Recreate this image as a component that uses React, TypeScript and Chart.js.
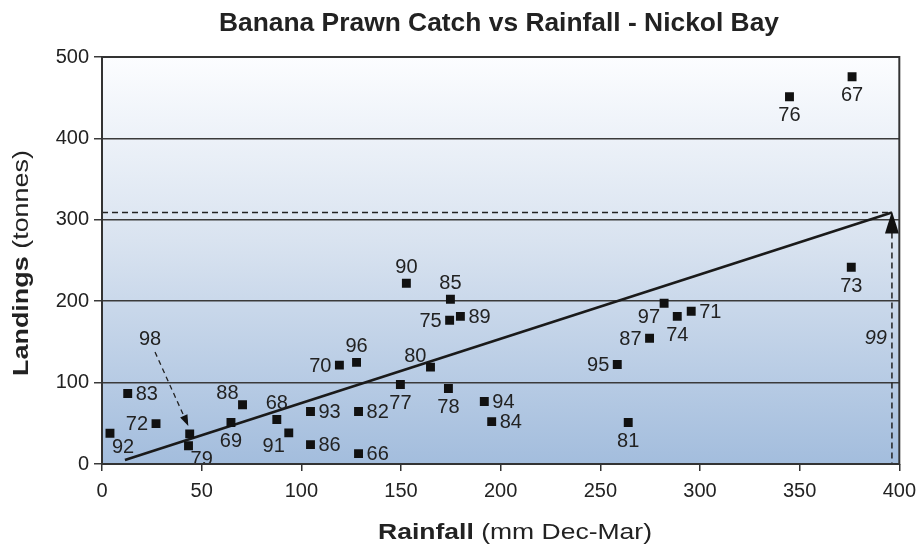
import React, { useEffect, useRef } from "react";
import { Chart, registerables } from "chart.js";

Chart.register(...registerables);

const FONT = '"Liberation Sans", Arial, Helvetica, sans-serif';

// Season labels (year), rainfall (mm Dec-Mar) and landings (tonnes)
const seasons = ["66", "67", "68", "69", "70", "71", "72", "73", "74", "75", "76", "77", "78", "79", "80", "81", "82", "83", "84", "85", "86", "87", "88", "89", "90", "91", "92", "93", "94", "95", "96", "97", "98"];
const rainfall = [128.7, 376.3, 87.7, 64.7, 119.1, 295.6, 27.1, 375.9, 288.6, 174.4, 344.9, 149.7, 173.8, 43.4, 164.8, 264.0, 128.7, 12.9, 195.5, 174.8, 104.6, 274.7, 70.5, 179.8, 152.7, 93.7, 4.0, 104.6, 191.8, 258.5, 127.7, 282.0, 44.0];
const landings = [12.7, 475.7, 54.6, 50.9, 121.5, 187.6, 49.6, 241.7, 181.4, 176.5, 451.1, 97.7, 92.7, 22.5, 119.0, 50.9, 64.4, 86.6, 52.1, 202.3, 23.8, 154.4, 72.7, 181.4, 222.0, 38.2, 37.8, 64.4, 76.7, 122.3, 124.8, 197.4, 37.0];
// Where each season label sits relative to its point (compass direction)
const labelSide = ["e", "s", "n", "s", "w", "e", "w", "s", "s", "w", "s", "s", "s", "se", "nw", "s", "e", "e", "e", "n", "e", "w", "nw", "e", "n", "sw", "se", "e", "e", "w", "n", "sw", "arrow"];

// Regression line end points
const trendRain = [11.5, 396.3];
const trendCatch = [5, 309];

// 1998 pointer (from label to point) and 1999 forecast
const pointer98Rain = [26.6, 43.3];
const pointer98Catch = [137.5, 46.8];
const forecastLabel = "99";
const forecastRain = 396.3;
const forecastCatch = 309;

const xTicks = [0, 50, 100, 150, 200, 250, 300, 350, 400];
const yTicks = [0, 100, 200, 300, 400, 500];

const chartTitle = "Banana Prawn Catch vs Rainfall - Nickol Bay";
const xTitleBold = "Rainfall";
const xTitleRest = " (mm Dec-Mar)";
const yTitleBold = "Landings";
const yTitleRest = " (tonnes)";

const INK = "#222222";

function arrowHead(ctx: CanvasRenderingContext2D, tipX: number, tipY: number, fromX: number, fromY: number, len: number, half: number) {
  const ang = Math.atan2(tipY - fromY, tipX - fromX);
  const bx = tipX - Math.cos(ang) * len;
  const by = tipY - Math.sin(ang) * len;
  const px = -Math.sin(ang) * half;
  const py = Math.cos(ang) * half;
  ctx.beginPath();
  ctx.moveTo(tipX, tipY);
  ctx.lineTo(bx + px, by + py);
  ctx.lineTo(bx - px, by - py);
  ctx.closePath();
  ctx.fill();
}

// draws bold + regular text centred at origin, stretched along its direction to a target width
function drawMixed(ctx: CanvasRenderingContext2D, bold: string, rest: string, size: number, targetWidth: number) {
  const boldF = "bold " + size + "px " + FONT;
  const normF = size + "px " + FONT;
  ctx.font = boldF;
  const wb = ctx.measureText(bold).width;
  ctx.font = normF;
  const wr = ctx.measureText(rest).width;
  const k = targetWidth / (wb + wr);
  ctx.scale(k, 1);
  const start = -(wb + wr) / 2;
  ctx.textAlign = "left";
  ctx.textBaseline = "alphabetic";
  ctx.font = boldF;
  ctx.fillText(bold, start, 0);
  ctx.font = normF;
  ctx.fillText(rest, start + wb, 0);
}

const decorPlugin = {
  id: "decor",
  beforeDraw(chart: any) {
    const { ctx, chartArea: a } = chart;
    ctx.save();
    const g = ctx.createLinearGradient(0, a.top, 0, a.bottom);
    g.addColorStop(0, "#fcfdff");
    g.addColorStop(0.45, "#d9e3f0");
    g.addColorStop(1, "#a3bddd");
    ctx.fillStyle = g;
    ctx.fillRect(a.left, a.top, a.right - a.left, a.bottom - a.top);
    ctx.restore();
  },
  afterDatasetsDraw(chart: any) {
    const { ctx, chartArea: a, scales } = chart;
    const xs = scales.x;
    const ys = scales.y;
    ctx.save();

    // forecast dashed guides
    const fx = xs.getPixelForValue(forecastRain);
    const fy = ys.getPixelForValue(forecastCatch);
    ctx.strokeStyle = INK;
    ctx.lineWidth = 1.5;
    ctx.setLineDash([6, 4]);
    ctx.beginPath();
    ctx.moveTo(a.left, fy);
    ctx.lineTo(fx, fy);
    ctx.moveTo(fx, fy + 20);
    ctx.lineTo(fx, a.bottom);
    ctx.stroke();
    ctx.setLineDash([]);
    ctx.fillStyle = "#111";
    arrowHead(ctx, fx, fy - 1, fx, fy + 30, 22, 7);

    // forecast label
    ctx.font = "italic 20px " + FONT;
    ctx.fillStyle = INK;
    ctx.textAlign = "right";
    ctx.textBaseline = "middle";
    ctx.fillText(forecastLabel, fx - 5, ys.getPixelForValue(154));

    // 98 pointer
    const sx = xs.getPixelForValue(pointer98Rain[0]);
    const sy = ys.getPixelForValue(pointer98Catch[0]);
    const tx = xs.getPixelForValue(pointer98Rain[1]);
    const ty = ys.getPixelForValue(pointer98Catch[1]);
    ctx.strokeStyle = INK;
    ctx.setLineDash([5, 4]);
    ctx.lineWidth = 1.3;
    ctx.beginPath();
    ctx.moveTo(sx, sy);
    const ang = Math.atan2(ty - sy, tx - sx);
    ctx.lineTo(tx - Math.cos(ang) * 9, ty - Math.sin(ang) * 9);
    ctx.stroke();
    ctx.setLineDash([]);
    ctx.fillStyle = "#111";
    arrowHead(ctx, tx, ty, sx, sy, 11, 4);

    // season labels
    ctx.font = "20px " + FONT;
    ctx.fillStyle = INK;
    const meta = chart.getDatasetMeta(0);
    meta.data.forEach((pt: any, i: number) => {
      const side = labelSide[i];
      const x = pt.x;
      const y = pt.y;
      ctx.textBaseline = "middle";
      if (side === "arrow") {
        ctx.textAlign = "center";
        ctx.fillText(seasons[i], sx - 5, sy - 13);
        return;
      }
      let tx2 = x, ty2 = y + 1, align: CanvasTextAlign = "center";
      switch (side) {
        case "e": tx2 = x + 8; align = "left"; break;
        case "w": tx2 = x - 8; align = "right"; break;
        case "n": ty2 = y - 16; break;
        case "s": ty2 = y + 19; break;
        case "se": tx2 = x + 2; ty2 = y + 14; align = "left"; break;
        case "sw": tx2 = x - 4; ty2 = y + 14; align = "right"; break;
        case "nw": tx2 = x - 4; ty2 = y - 11; align = "right"; break;
        case "ne": tx2 = x + 4; ty2 = y - 11; align = "left"; break;
      }
      ctx.textAlign = align;
      ctx.fillText(seasons[i], tx2, ty2);
    });
    ctx.restore();
  },
  afterDraw(chart: any) {
    const { ctx, chartArea: a } = chart;
    ctx.save();
    // frame
    ctx.strokeStyle = "#333";
    ctx.lineWidth = 2;
    ctx.strokeRect(a.left, a.top, a.right - a.left, a.bottom - a.top);

    // title
    ctx.fillStyle = INK;
    ctx.textAlign = "center";
    ctx.textBaseline = "alphabetic";
    ctx.font = "bold 25px " + FONT;
    const tw = ctx.measureText(chartTitle).width;
    ctx.save();
    ctx.translate(499, 31);
    ctx.scale(560 / tw, 1);
    ctx.fillText(chartTitle, 0, 0);
    ctx.restore();

    // x title
    ctx.save();
    ctx.translate(515, 539);
    drawMixed(ctx, xTitleBold, xTitleRest, 21.5, 274);
    ctx.restore();

    // y title
    ctx.save();
    ctx.translate(28, 263);
    ctx.rotate(-Math.PI / 2);
    drawMixed(ctx, yTitleBold, yTitleRest, 21.5, 226);
    ctx.restore();
    ctx.restore();
  },
};

export default function App() {
  const ref = useRef<HTMLCanvasElement | null>(null);
  useEffect(() => {
    document.body.style.margin = "0";
    if (!ref.current) return;
    Chart.defaults.font.family = FONT;
    const chart = new Chart(ref.current, {
      type: "scatter",
      data: {
        datasets: [
          {
            label: "Seasons",
            data: rainfall.map((r, i) => ({ x: r, y: landings[i] })),
            pointStyle: "rect",
            pointRadius: 6.3,
            pointBorderWidth: 0,
            backgroundColor: "#111",
            borderColor: "#111",
          },
          {
            label: "Trend",
            data: trendRain.map((r, i) => ({ x: r, y: trendCatch[i] })),
            showLine: true,
            pointRadius: 0,
            borderColor: "#1a1a1a",
            borderWidth: 2.6,
          } as any,
        ],
      },
      options: {
        responsive: false,
        animation: false,
        layout: { padding: { top: 57, right: 24, left: 0, bottom: 0 } },
        plugins: { legend: { display: false }, tooltip: { enabled: false }, title: { display: false } },
        scales: {
          x: {
            type: "linear",
            min: 0,
            max: 400,
            afterBuildTicks: (s: any) => { s.ticks = xTicks.map((v) => ({ value: v })); },
            afterFit: (s: any) => { s.height = 88; },
            ticks: { color: INK, font: { size: 20, family: FONT }, padding: 8, maxRotation: 0 },
            grid: { drawOnChartArea: false, drawTicks: true, tickLength: 7, color: "#333", lineWidth: 1.5 },
            border: { display: false },
          },
          y: {
            type: "linear",
            min: 0,
            max: 500,
            afterBuildTicks: (s: any) => { s.ticks = yTicks.map((v) => ({ value: v })); },
            afterFit: (s: any) => { s.width = 102; },
            ticks: { color: INK, font: { size: 20, family: FONT }, padding: 5 },
            grid: { color: "#3a3a3a", lineWidth: 1.5, tickLength: 8, drawTicks: true },
            border: { display: false },
          },
        },
      },
      plugins: [decorPlugin],
    });
    return () => chart.destroy();
  }, []);
  return (
    <div style={{ width: 924, height: 552 }}>
      <canvas ref={ref} width={924} height={552} style={{ display: "block" }} />
    </div>
  );
}
